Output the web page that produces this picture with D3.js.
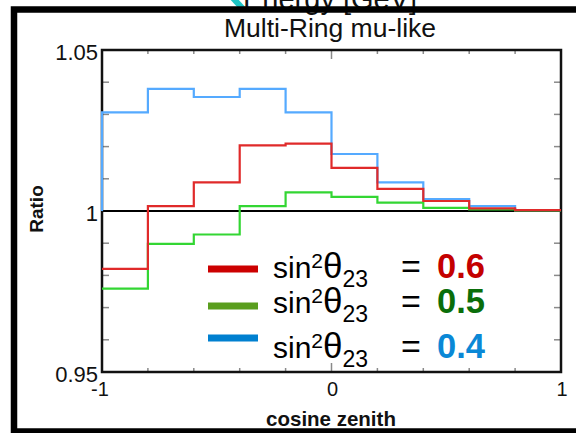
<!DOCTYPE html>
<html>
<head>
<meta charset="utf-8">
<script src="https://cdn.jsdelivr.net/npm/d3@7"></script>
<style>
  html, body { margin: 0; padding: 0; background: #fff; }
  svg { display: block; font-family: "Liberation Sans", Arial, Helvetica, sans-serif; }
</style>
</head>
<body>
<svg id="chart" width="576" height="433"></svg>
<script>
// ---- data ----
const binEdges = [-1, -0.8, -0.6, -0.4, -0.2, 0, 0.2, 0.4, 0.6, 0.8, 1];
const ratioS04 = [1.0306, 1.0379, 1.0354, 1.0379, 1.0306, 1.0177, 1.0089, 1.0037, 1.0015, 1.0003];
const ratioS05 = [0.9759, 0.9898, 0.9927, 1.0015, 1.0058, 1.0044, 1.0026, 1.0010, 1.0005, 1.0002];
const ratioS06 = [0.9820, 1.0015, 1.0089, 1.0204, 1.0209, 1.0134, 1.0069, 1.0031, 1.0008, 1.0003];
const seriesNames = ["0.6", "0.5", "0.4"];
const xTickLabels = ["-1", "0", "1"];
const yTickLabels = ["0.95", "1", "1.05"];
const chartTitle = "Multi-Ring mu-like";
const xTitle = "cosine zenith";
const yTitle = "Ratio";

const svg = d3.select("#chart");
const x = d3.scaleLinear().domain([-1, 1]).range([102, 561]);
const y = d3.scaleLinear().domain([0.95, 1.05]).range([372, 50]);

// neighbouring-figure fragments at the top
svg.append("text").attr("x", 243).attr("y", 9).attr("font-size", 29)
  .attr("fill", "#111").text("Energy [GeV]");
svg.append("line").attr("x1", 232).attr("y1", -3).attr("x2", 244).attr("y2", 10)
  .attr("stroke", "#1cc4c4").attr("stroke-width", 6);

// outer frame
svg.append("rect").attr("x", 14).attr("y", 9.5).attr("width", 620).attr("height", 422)
  .attr("fill", "none").attr("stroke", "#000").attr("stroke-width", 6.5);

// title
svg.append("text").attr("x", 330).attr("y", 37).attr("text-anchor", "middle")
  .attr("font-size", 26.5).attr("fill", "#111").text(chartTitle);

// ticks (inside)
const tickCol = "#8a8a8a";
const yMinor = d3.range(0, 11).map(i => 0.95 + i * 0.01);
const xMinor = d3.range(0, 11).map(i => -1 + i * 0.2);
const xMajor = [-1, 0, 1];
const g = svg.append("g");
yMinor.forEach(v => {
  g.append("line").attr("x1", x(-1)).attr("x2", x(-1) + 7).attr("y1", y(v)).attr("y2", y(v))
    .attr("stroke", tickCol).attr("stroke-width", 1.5);
  g.append("line").attr("x1", x(1)).attr("x2", x(1) - 7).attr("y1", y(v)).attr("y2", y(v))
    .attr("stroke", tickCol).attr("stroke-width", 1.5);
});
xMinor.forEach(v => {
  const len = xMajor.some(m => Math.abs(m - v) < 1e-9) ? 9 : 4;
  g.append("line").attr("x1", x(v)).attr("x2", x(v)).attr("y1", y(1.05)).attr("y2", y(1.05) + len)
    .attr("stroke", tickCol).attr("stroke-width", 1.5);
  g.append("line").attr("x1", x(v)).attr("x2", x(v)).attr("y1", y(0.95)).attr("y2", y(0.95) - len)
    .attr("stroke", tickCol).attr("stroke-width", 1.5);
});

// reference line at 1
svg.append("line").attr("x1", x(-1)).attr("x2", x(1)).attr("y1", y(1)).attr("y2", y(1))
  .attr("stroke", "#000").attr("stroke-width", 2);

// plot frame
svg.append("rect").attr("x", x(-1)).attr("y", y(1.05)).attr("width", x(1) - x(-1))
  .attr("height", y(0.95) - y(1.05)).attr("fill", "none").attr("stroke", "#111").attr("stroke-width", 2.5);

// histograms
function histPath(vals) {
  const pts = [];
  const start = vals[0] > 1 ? 1 : vals[0];
  pts.push([x(binEdges[0]), y(start)]);
  vals.forEach((v, i) => {
    pts.push([x(binEdges[i]), y(v)]);
    pts.push([x(binEdges[i + 1]), y(v)]);
  });
  return d3.line()(pts);
}
const hists = [
  { vals: ratioS04, color: "#55aaff" },
  { vals: ratioS05, color: "#33d633" },
  { vals: ratioS06, color: "#e02a2a" }
];
hists.forEach(h => {
  svg.append("path").attr("d", histPath(h.vals)).attr("fill", "none")
    .attr("stroke", h.color).attr("stroke-width", 2.2);
});

// tick labels
const yLabVals = [0.95, 1, 1.05];
yLabVals.forEach((v, i) => {
  svg.append("text").attr("x", 98).attr("y", y(v) + 10).attr("text-anchor", "end")
    .attr("font-size", 22).attr("fill", "#111").text(yTickLabels[i]);
});
xMajor.forEach((v, i) => {
  svg.append("text").attr("x", x(v) + (i === 0 ? -2 : 1)).attr("y", 396).attr("text-anchor", "middle")
    .attr("font-size", 20).attr("fill", "#111").text(xTickLabels[i]);
});

// axis titles
svg.append("text").attr("transform", "translate(43,209) rotate(-90)").attr("text-anchor", "middle")
  .attr("font-size", 19).attr("font-weight", "bold").attr("fill", "#111").text(yTitle);
svg.append("text").attr("x", 331).attr("y", 426).attr("text-anchor", "middle")
  .attr("font-size", 20.5).attr("font-weight", "bold").attr("fill", "#111").text(xTitle);

// legend
const legend = [
  { name: seriesNames[0], bar: "#cc0000", txt: "#c40000", barY: 269, base: 278 },
  { name: seriesNames[1], bar: "#5a9e1e", txt: "#0a6e0a", barY: 306, base: 313 },
  { name: seriesNames[2], bar: "#0080d0", txt: "#0a88d6", barY: 338, base: 358 }
];
legend.forEach(l => {
  svg.append("line").attr("x1", 208).attr("x2", 258).attr("y1", l.barY).attr("y2", l.barY)
    .attr("stroke", l.bar).attr("stroke-width", 7);
  const t = svg.append("text").attr("x", 273).attr("y", l.base).attr("font-size", 30).attr("fill", "#000");
  t.append("tspan").text("sin");
  t.append("tspan").attr("font-size", 21).attr("dy", -10).text("2");
  t.append("tspan").attr("dy", 10).attr("font-size", 35).text("θ");
  t.append("tspan").attr("font-size", 23).attr("dy", 9).text("23");
  t.append("tspan").attr("x", 401).attr("dy", -9).attr("font-size", 34).text("=");
  t.append("tspan").attr("x", 437).attr("font-weight", "bold").attr("font-size", 34.5).attr("fill", l.txt).text(l.name);
});
</script>
</body>
</html>
